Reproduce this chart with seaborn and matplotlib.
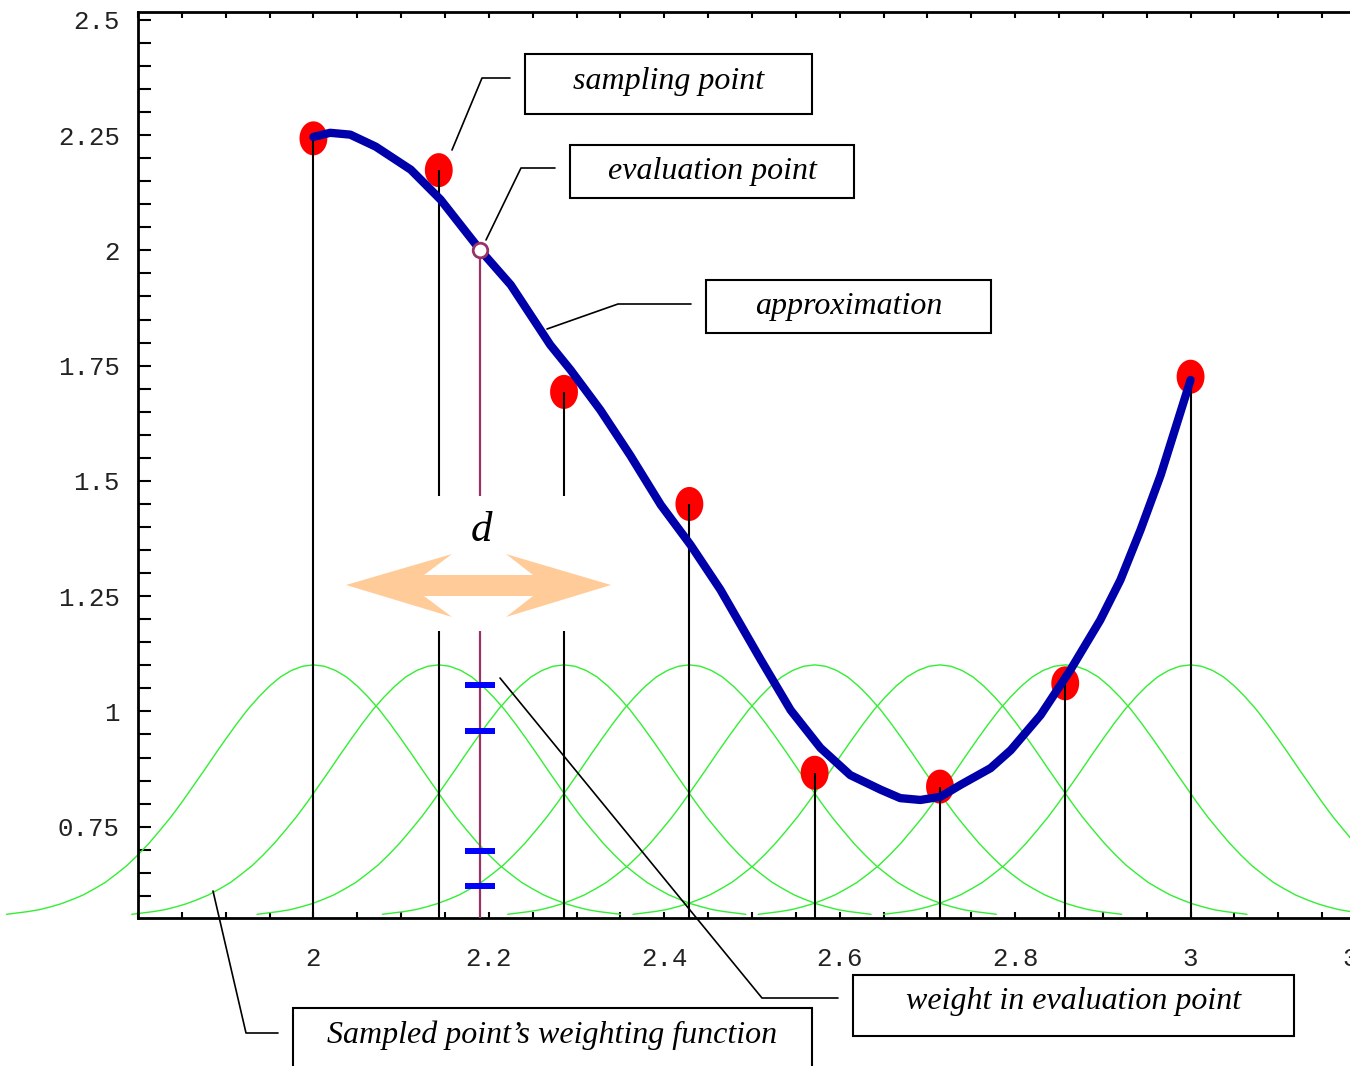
import numpy as np
import pandas as pd
import matplotlib
matplotlib.use("Agg")
import matplotlib.pyplot as plt
from matplotlib.patches import Rectangle, Polygon
from matplotlib.lines import Line2D
from matplotlib.ticker import MultipleLocator, FixedLocator, FixedFormatter
import seaborn as sns

# sampled points (red dots)
sample_x = [2.0, 2.1429, 2.2857, 2.4286, 2.5714, 2.7143, 2.8571, 3.0]
sample_y = [2.243, 2.174, 1.693, 1.450, 0.867, 0.837, 1.061, 1.726]

# approximation curve (thick blue line)
approx_x = [2.000, 2.019, 2.042, 2.071, 2.111, 2.145, 2.190, 2.225, 2.270, 2.293,
            2.327, 2.361, 2.396, 2.430, 2.464, 2.510, 2.544, 2.578, 2.612, 2.647,
            2.669, 2.692, 2.715, 2.738, 2.772, 2.795, 2.829, 2.863, 2.897, 2.920,
            2.943, 2.966, 3.000]
approx_y = [2.246, 2.255, 2.251, 2.225, 2.175, 2.110, 2.001, 1.925, 1.795, 1.741,
            1.654, 1.556, 1.448, 1.361, 1.264, 1.112, 1.003, 0.921, 0.862, 0.830,
            0.812, 0.808, 0.815, 0.841, 0.877, 0.916, 0.992, 1.090, 1.198, 1.285,
            1.394, 1.513, 1.719]

# evaluation point and the weights read on its vertical line
eval_x = 2.19
eval_y = 2.0
weight_y = [1.057, 0.958, 0.698, 0.621]

# one weighting bump (half profile): distance from its sample point -> height
bump_dx = [0.0, 0.0125, 0.025, 0.0375, 0.05, 0.0625, 0.075, 0.0875, 0.1, 0.1125,
           0.125, 0.1375, 0.15, 0.1625, 0.175, 0.1875, 0.2, 0.2125, 0.225, 0.2375,
           0.25, 0.2625, 0.275, 0.2875, 0.3, 0.3125, 0.325, 0.3375, 0.35]
bump_y = [1.101, 1.098, 1.089, 1.075, 1.055, 1.031, 1.004, 0.973, 0.940, 0.906,
          0.871, 0.837, 0.803, 0.771, 0.742, 0.714, 0.689, 0.666, 0.647, 0.629,
          0.615, 0.602, 0.592, 0.583, 0.576, 0.570, 0.566, 0.563, 0.560]

x_ticks = [2.0, 2.2, 2.4, 2.6, 2.8, 3.0, 3.2]
x_labels = ["2", "2.2", "2.4", "2.6", "2.8", "3", "3.2"]
y_ticks = [0.75, 1.0, 1.25, 1.5, 1.75, 2.0, 2.25, 2.5]
y_labels = ["0.75", "1", "1.25", "1.5", "1.75", "2", "2.25", "2.5"]

x_range = (1.8, 3.2)
y_range = (0.552, 2.517)

sns.set_style("white")
plt.rcParams["font.family"] = ["Liberation Serif", "DejaVu Serif"]
plt.rcParams["text.color"] = "black"

W, H = 1350, 1066
fig = plt.figure(figsize=(W / 100, H / 100), dpi=100)
ax = fig.add_axes([138 / W, 1 - 918 / H, (1366 - 138) / W, (918 - 12) / H])


def px(x, y):
    # pixel position in the picture -> figure fraction
    return x / W, 1 - y / H


# weighting functions, one bump per sampled point
dx_full = [-d for d in bump_dx[:0:-1]] + bump_dx
y_full = bump_y[:0:-1] + bump_y
rows = []
for c in sample_x:
    for d, h in zip(dx_full, y_full):
        rows.append((c, c + d, h))
bumps = pd.DataFrame(rows, columns=["center", "x", "y"])
n_before = len(ax.lines)
sns.lineplot(data=bumps, x="x", y="y", units="center", estimator=None, sort=False,
             color="#33ee33", lw=1.0, ax=ax, legend=False)
for ln in ax.lines[n_before:]:
    ln.set_clip_on(False)
    ln.set_zorder(1)

# stems from the sampled points and the evaluation point
ax.vlines(sample_x, y_range[0], sample_y, color="black", lw=1.5, zorder=3)
ax.vlines(eval_x, y_range[0], eval_y, color="#993366", lw=1.6, zorder=3)

# sampled points
ell = np.linspace(0, 2 * np.pi, 40)
ell_marker = np.column_stack([0.82 * np.cos(ell), np.sin(ell)])
sns.scatterplot(x=sample_x, y=sample_y, marker=ell_marker, s=600, color="red",
                edgecolor="none", zorder=2, ax=ax, legend=False)

# approximation
n_before = len(ax.lines)
sns.lineplot(x=approx_x, y=approx_y, sort=False, estimator=None, color="#0000aa",
             lw=6, ax=ax, legend=False)
for ln in ax.lines[n_before:]:
    ln.set_zorder(4)
    ln.set_solid_capstyle("round")
    ln.set_solid_joinstyle("round")

# evaluation point and the weights on it
sns.scatterplot(x=[eval_x], y=[eval_y], s=110, color="white", edgecolor="#993366",
                linewidth=2, zorder=6, ax=ax, legend=False)
ax.plot([eval_x] * len(weight_y), weight_y, ls="none", marker="_", ms=22, mew=4.3,
        color="#0000ff", zorder=6)

# axes styling
ax.set_xlim(*x_range)
ax.set_ylim(*y_range)
ax.set_xlabel("")
ax.set_ylabel("")
for s in ["left", "top", "bottom"]:
    ax.spines[s].set_linewidth(2)
    ax.spines[s].set_color("black")
ax.spines["right"].set_visible(False)

ax.xaxis.set_major_locator(FixedLocator(x_ticks))
ax.xaxis.set_major_formatter(FixedFormatter(x_labels))
ax.xaxis.set_minor_locator(MultipleLocator(0.05))
ax.yaxis.set_major_locator(FixedLocator(y_ticks))
ax.yaxis.set_major_formatter(FixedFormatter(y_labels))
ax.yaxis.set_minor_locator(MultipleLocator(0.05))

ax.tick_params(axis="x", which="both", direction="in", top=True, bottom=True,
               length=4, width=1.5, color="black", pad=21, labelsize=18.5,
               labelcolor="#222222")
ax.tick_params(axis="y", which="both", direction="in", left=True, right=False,
               length=9, width=1.5, color="black", pad=13, labelsize=18.5,
               labelcolor="#222222")
for lab in ax.get_xticklabels() + ax.get_yticklabels():
    lab.set_family("Liberation Mono")

# white gap behind the double arrow
fig.add_artist(Rectangle(px(340, 631), 280 / W, 135 / H, transform=fig.transFigure,
                         facecolor="white", edgecolor="none", zorder=2))
arrow_px = [(346, 585), (452, 554), (424, 575), (533, 575), (506, 554), (611, 585),
            (506, 617), (533, 596), (424, 596), (452, 617)]
fig.add_artist(Polygon([px(*p) for p in arrow_px], closed=True, transform=fig.transFigure,
                       facecolor="#ffcc99", edgecolor="none", zorder=3))
fig.text(*px(481, 531), "d", fontsize=31, style="italic", ha="center", va="center",
         color="black", zorder=4)

# labelled boxes with their leader lines
boxes = [
    ("sampling point", (525, 54, 812, 114), [(452, 150), (482, 78), (510, 78)]),
    ("evaluation point", (570, 145, 854, 198), [(486, 240), (521, 168), (555, 168)]),
    ("approximation", (706, 280, 991, 333), [(547, 329), (618, 304), (691, 304)]),
    ("weight in evaluation point", (853, 975, 1294, 1036),
     [(500, 678), (762, 998), (838, 998)]),
    ("Sampled point\u2019s weighting function", (293, 1008, 812, 1090),
     [(213, 891), (246, 1033), (278, 1033)]),
]
for label, (x0, y0, x1, y1), lead in boxes:
    fig.add_artist(Rectangle(px(x0, y1), (x1 - x0) / W, (y1 - y0) / H,
                             transform=fig.transFigure, facecolor="white",
                             edgecolor="black", lw=1.5, zorder=3))
    cy = min(y0 + 27, (y0 + y1) / 2)
    fig.text(*px((x0 + x1) / 2, cy), label, fontsize=23, style="italic",
             ha="center", va="center", color="black", zorder=4)
    lx, ly = zip(*[px(*p) for p in lead])
    fig.add_artist(Line2D(lx, ly, transform=fig.transFigure, color="black", lw=1.2,
                          zorder=3))

fig.savefig("out.png", dpi=100, facecolor="white")
